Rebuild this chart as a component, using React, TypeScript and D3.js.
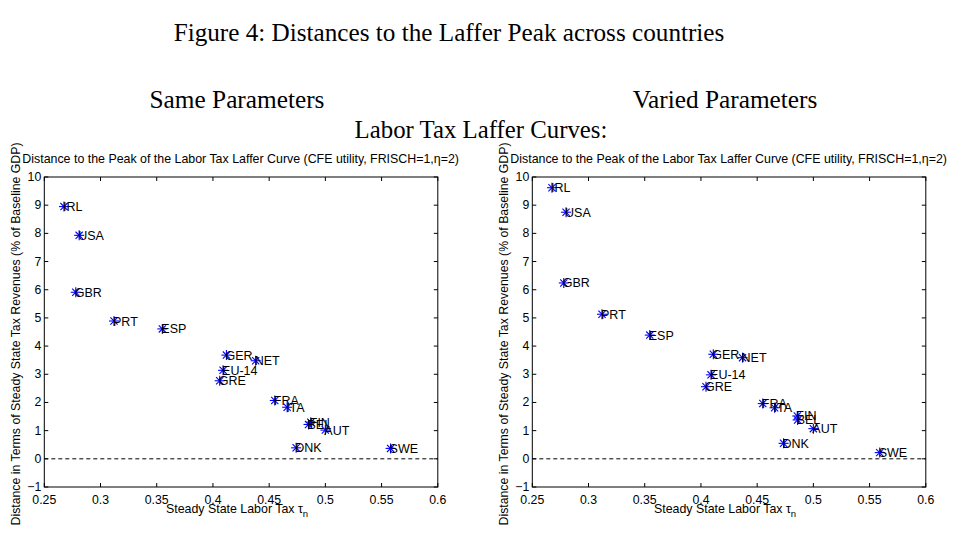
import React from "react";
import * as d3 from "d3";

const countries = ["IRL","USA","GBR","PRT","ESP","GER","NET","EU-14","GRE","FRA","ITA","FIN","BEL","AUT","DNK","SWE"];
const taxSame = [0.2675,0.281,0.278,0.312,0.355,0.412,0.438,0.409,0.406,0.455,0.466,0.487,0.485,0.500,0.474,0.558];
const distSame = [8.95,7.93,5.91,4.89,4.61,3.68,3.48,3.14,2.77,2.07,1.83,1.30,1.22,1.02,0.39,0.37];
const taxVaried = [0.2675,0.280,0.278,0.312,0.3545,0.411,0.437,0.409,0.4045,0.455,0.4655,0.4857,0.486,0.500,0.4735,0.559];
const distVaried = [9.62,8.75,6.24,5.13,4.39,3.71,3.59,2.98,2.56,1.96,1.81,1.52,1.38,1.07,0.55,0.22];
const xTicks = [0.25,0.3,0.35,0.4,0.45,0.5,0.55,0.6];
const yTicks = [-1,0,1,2,3,4,5,6,7,8,9,10];

const W = 959, H = 536;
const sans = "Liberation Sans, Arial, sans-serif";
const serif = "Liberation Serif, DejaVu Serif, serif";

function Star({ x, y }: { x: number; y: number }) {
  const r = 5;
  const d = r * 0.72;
  return (
    <g stroke="#0000ff" strokeWidth={1.1}>
      <line x1={x - r} y1={y} x2={x + r} y2={y} />
      <line x1={x} y1={y - r} x2={x} y2={y + r} />
      <line x1={x - d} y1={y - d} x2={x + d} y2={y + d} />
      <line x1={x - d} y1={y + d} x2={x + d} y2={y - d} />
    </g>
  );
}

function Panel({ left, tax, dist }: { left: number; tax: number[]; dist: number[] }) {
  const x = d3.scaleLinear().domain([0.25, 0.6]).range([left, left + 393.5]);
  const y = d3.scaleLinear().domain([-1, 10]).range([487, 177]);
  const [x0, x1] = x.range();
  const [y0, y1] = y.range();
  const tl = 4;
  return (
    <g>
      <rect x={x0} y={y1} width={x1 - x0} height={y0 - y1} fill="white" stroke="black" strokeWidth={1} />
      {xTicks.map((t) => (
        <g key={"x" + t}>
          <line x1={x(t)} x2={x(t)} y1={y0} y2={y0 - tl} stroke="black" />
          <line x1={x(t)} x2={x(t)} y1={y1} y2={y1 + tl} stroke="black" />
          <text x={x(t)} y={y0 + 17} textAnchor="middle" fontSize={12.3} fontFamily={sans}>{String(t)}</text>
        </g>
      ))}
      {yTicks.map((t) => (
        <g key={"y" + t}>
          <line x1={x0} x2={x0 + tl} y1={y(t)} y2={y(t)} stroke="black" />
          <line x1={x1} x2={x1 - tl} y1={y(t)} y2={y(t)} stroke="black" />
          <text x={x0 - 3} y={y(t) + 4} textAnchor="end" fontSize={12.3} fontFamily={sans}>{t < 0 ? "\u2212" + Math.abs(t) : String(t)}</text>
        </g>
      ))}
      <line x1={x0} x2={x1} y1={y(0)} y2={y(0)} stroke="black" strokeDasharray="4,3" />
      {countries.map((c, i) => (
        <g key={c}>
          <Star x={x(tax[i])} y={y(dist[i])} />
          <text x={x(tax[i]) - 1} y={y(dist[i]) + 4.5} fontSize={12.5} fontFamily={sans} fill="black">{c}</text>
        </g>
      ))}
      <text x={x0 - 22} y={163} fontSize={12.4} fontFamily={sans}>
        Distance to the Peak of the Labor Tax Laffer Curve (CFE utility, FRISCH=1,η=2)
      </text>
      <text x={(x0 + x1) / 2 - 4} y={513} textAnchor="middle" fontSize={12.4} fontFamily={sans}>
        Steady State Labor Tax τ<tspan fontSize={9.5} dy={4}>n</tspan>
      </text>
      <text transform={`translate(${x0 - 24},${334}) rotate(-90)`} textAnchor="middle" fontSize={12.3} fontFamily={sans}>
        Distance in Terms of Steady State Tax Revenues (% of Baseline GDP)
      </text>
    </g>
  );
}

export default function App() {
  return (
    <svg width={W} height={H} style={{ position: "absolute", left: 0, top: 0, background: "white" }}>
      <rect width={W} height={H} fill="white" />
      <text x={449} y={41} textAnchor="middle" fontSize={25.2} fontFamily={serif}>Figure 4: Distances to the Laffer Peak across countries</text>
      <text x={237} y={108} textAnchor="middle" fontSize={25.3} fontFamily={serif}>Same Parameters</text>
      <text x={725} y={108} textAnchor="middle" fontSize={25.3} fontFamily={serif}>Varied Parameters</text>
      <text x={481} y={138} textAnchor="middle" fontSize={24.8} fontFamily={serif}>Labor Tax Laffer Curves:</text>
      <Panel left={44.3} tax={taxSame} dist={distSame} />
      <Panel left={532.3} tax={taxVaried} dist={distVaried} />
    </svg>
  );
}
